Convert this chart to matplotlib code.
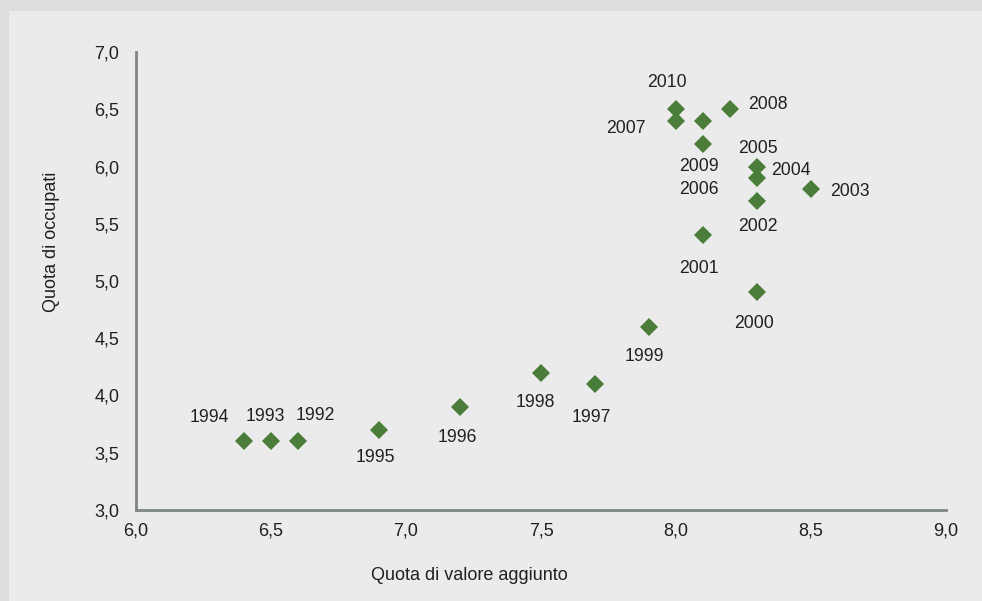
import matplotlib
matplotlib.use("Agg")
import matplotlib.pyplot as plt
from matplotlib.patches import Rectangle

plt.rcParams['font.family'] = ['Liberation Sans', 'DejaVu Sans']

# ---- data ----
years = [1992, 1993, 1994, 1995, 1996, 1997, 1998, 1999, 2000, 2001,
         2002, 2003, 2004, 2005, 2006, 2007, 2008, 2009, 2010]
valore_aggiunto = [6.6, 6.5, 6.4, 6.9, 7.2, 7.7, 7.5, 7.9, 8.3, 8.1,
                   8.3, 8.5, 8.3, 8.3, 8.1, 8.0, 8.2, 8.1, 8.0]
occupati = [3.6, 3.6, 3.6, 3.7, 3.9, 4.1, 4.2, 4.6, 4.9, 5.4,
            5.7, 5.8, 5.9, 6.0, 6.2, 6.4, 6.5, 6.4, 6.5]
x_ticks = [6.0, 6.5, 7.0, 7.5, 8.0, 8.5, 9.0]
y_ticks = [3.0, 3.5, 4.0, 4.5, 5.0, 5.5, 6.0, 6.5, 7.0]

# label placement (pixel offsets from the marker, +y up)
label_offsets = {
    1992: (17, 26), 1993: (-6, 25), 1994: (-35, 24), 1995: (-4, -28),
    1996: (-3, -31), 1997: (-4, -33), 1998: (-6, -30), 1999: (-5, -30),
    2000: (-3, -31), 2001: (-4, -33), 2002: (1, -26), 2003: (39, -2),
    2004: (34, 7), 2005: (1, 18), 2006: (-4, -46), 2007: (-50, -8),
    2008: (38, 5), 2009: (-4, -46), 2010: (-9, 27),
}

W, H = 982, 601
fig = plt.figure(figsize=(W / 100, H / 100), dpi=100)
fig.patch.set_facecolor('#dcdddd')
# inner panel
fig.patches.append(Rectangle((9 / W, 0), 1 - 9 / W, 1 - 11 / H,
                             transform=fig.transFigure,
                             facecolor='#eaebea', edgecolor='none', zorder=-5))

left, right, bottom, top = 136, 946, 510, 52
ax = fig.add_axes([left / W, 1 - bottom / H, (right - left) / W, (bottom - top) / H])
ax.set_facecolor('none')
ax.set_zorder(2)

green = '#4a7d39'
txt = '#231f20'
ax.plot(valore_aggiunto, occupati, linestyle='none', marker='D', markersize=9.2,
        color=green, markeredgewidth=0, zorder=3)

for yr, xv, yv in zip(years, valore_aggiunto, occupati):
    dx, dy = label_offsets[yr]
    ax.annotate(str(yr), (xv, yv), xytext=(dx, dy), textcoords='offset pixels',
                ha='center', va='center', fontsize=12.7, color=txt)

ax.set_xlim(6.0, 9.0)
ax.set_ylim(3.0, 7.0)
ax.set_xticks(x_ticks)
ax.set_yticks(y_ticks)
ax.set_xticklabels([f"{v:.1f}".replace('.', ',') for v in x_ticks])
ax.set_yticklabels([f"{v:.1f}".replace('.', ',') for v in y_ticks])
ax.tick_params(length=0, labelsize=13, labelcolor=txt)
ax.tick_params(axis='y', pad=12)
ax.tick_params(axis='x', pad=9)
for s in ['top', 'right']:
    ax.spines[s].set_visible(False)
for s in ['left', 'bottom']:
    ax.spines[s].set_color('#7f8583')
    ax.spines[s].set_linewidth(2)

fig.text(469 / W, 1 - 576 / H, 'Quota di valore aggiunto', ha='center', va='center',
         fontsize=13, color=txt)
fig.text(52 / W, 1 - 242 / H, 'Quota di occupati', ha='center', va='center',
         rotation=90, fontsize=13, color=txt)

fig.savefig('out.png', dpi=100, facecolor=fig.get_facecolor())
